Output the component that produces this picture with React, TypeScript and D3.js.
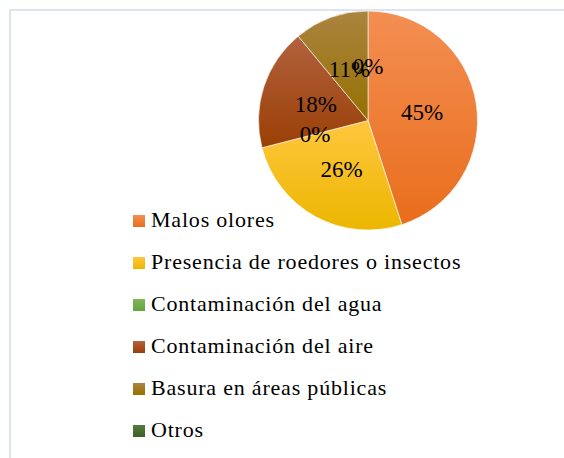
import React, { useEffect, useRef } from 'react';
import * as d3 from 'd3';

const categories = [
    'Malos olores',
    'Presencia de roedores o insectos',
    'Contaminación del agua',
    'Contaminación del aire',
    'Basura en áreas públicas',
    'Otros',
];
const values = [45, 26, 0, 18, 11, 0];
// light (top) and dark (bottom) colour of each slice gradient
const topColors = ['#f38e52', '#ffc73f', '#7fb85a', '#b2623f', '#ab8440', '#557a3c'];
const bottomColors = ['#e96e1c', '#ecb600', '#66a23e', '#9a3f05', '#967000', '#3d6127'];

const W = 564;
const H = 458;

const App = () => {
    const ref = useRef<SVGSVGElement | null>(null);

    useEffect(() => {
        const svg = d3.select(ref.current);
        svg.selectAll('*').remove();

        const font = 'Liberation Serif';

        // frame of the chart area
        svg.append('rect')
            .attr('x', 10)
            .attr('y', 10)
            .attr('width', W + 10)
            .attr('height', H + 10)
            .attr('fill', '#fff')
            .attr('stroke', '#dde4ed')
            .attr('stroke-width', 2);

        const defs = svg.append('defs');
        categories.forEach((c, i) => {
            const g = defs.append('linearGradient')
                .attr('id', `grad${i}`)
                .attr('x1', 0).attr('y1', 0)
                .attr('x2', 0).attr('y2', 1);
            g.append('stop').attr('offset', '0%').attr('stop-color', topColors[i]);
            g.append('stop').attr('offset', '100%').attr('stop-color', bottomColors[i]);
        });

        const cx = 368;
        const cy = 120.5;
        const r = 109.5;

        const pie = d3.pie<number>().sort(null).value(d => d);
        const arcs = pie(values);
        const arc = d3.arc<d3.PieArcDatum<number>>().innerRadius(0).outerRadius(r);

        const pieG = svg.append('g').attr('transform', `translate(${cx},${cy})`);

        pieG.selectAll('path.slice')
            .data(arcs)
            .enter().append('path')
            .attr('class', 'slice')
            .attr('d', arc)
            .attr('fill', (d, i) => `url(#grad${i})`)
            .attr('stroke', '#fff')
            .attr('stroke-width', d => (d.value > 0 ? 0.6 : 0));

        pieG.selectAll('text.lbl')
            .data(arcs)
            .enter().append('text')
            .attr('class', 'lbl')
            .attr('transform', d => {
                const [x, y] = arc.centroid(d);
                return `translate(${x},${y})`;
            })
            .attr('text-anchor', 'middle')
            .attr('dy', '0.35em')
            .attr('font-family', font)
            .attr('font-size', 23)
            .attr('fill', '#000')
            .text(d => `${d.value}%`);

        // legend
        const y = d3.scaleLinear().domain([0, categories.length - 1]).range([227, 437]);
        const rows = svg.append('g').selectAll('g')
            .data(categories)
            .enter().append('g')
            .attr('transform', (d, i) => `translate(0,${y(i)})`);

        rows.append('rect')
            .attr('x', 133)
            .attr('y', -12)
            .attr('width', 12)
            .attr('height', 12)
            .attr('fill', (d, i) => `url(#grad${i})`);

        rows.append('text')
            .attr('x', 151)
            .attr('y', 0)
            .attr('font-family', font)
            .attr('font-size', 22)
            .attr('letter-spacing', 0.8)
            .attr('fill', '#000')
            .text(d => d);
    }, []);

    return (
        <div style={{ position: 'absolute', left: 0, top: 0 }}>
            <svg ref={ref} width={W} height={H} style={{ display: 'block' }}></svg>
        </div>
    );
};

export default App;
